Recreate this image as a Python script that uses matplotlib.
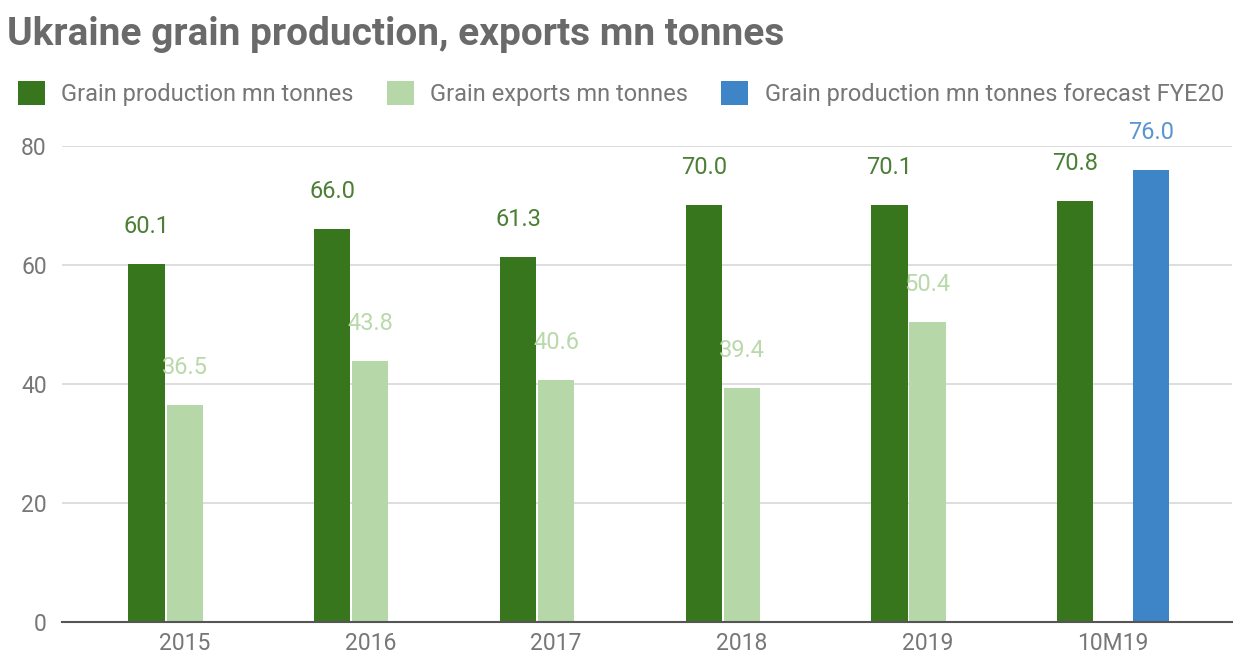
import numpy as np
import matplotlib.pyplot as plt
from matplotlib.patches import Patch

plt.rcParams['font.family'] = ['Roboto', 'DejaVu Sans']

# data
categories = ['2015', '2016', '2017', '2018', '2019', '10M19']
production = [60.1, 66.0, 61.3, 70.0, 70.1, 70.8]
exports = [36.5, 43.8, 40.6, 39.4, 50.4, None]
forecast = [None, None, None, None, None, 76.0]
series_names = ['Grain production mn tonnes', 'Grain exports mn tonnes',
                'Grain production mn tonnes forecast FYE20']

c_prod = '#38761d'
c_exp = '#b6d7a8'
c_fc = '#3d85c6'
lbl_colors = ['#4a7f35', '#b9d9ab', '#5b95cf']

fig = plt.figure(figsize=(12.42, 6.59), dpi=100)
ax = fig.add_axes([0.05, 0.0561, 0.942, 0.7224])

x = np.arange(len(categories))
w = 0.195
offs = [-0.205, 0.0, 0.205]
series = [production, exports, forecast]
colors = [c_prod, c_exp, c_fc]

for vals, off, col, lc in zip(series, offs, colors, lbl_colors):
    xs = [xi + off for xi, v in zip(x, vals) if v is not None]
    vs = [v for v in vals if v is not None]
    ax.bar(xs, vs, width=w, color=col, zorder=3)
    for xi, v in zip(xs, vs):
        ax.annotate(f'{v:.1f}', (xi, v), xytext=(0, 27), textcoords='offset points',
                    ha='center', va='center', fontsize=17, color=lc, annotation_clip=False)

ax.set_xlim(-0.66, 5.64)
ax.set_ylim(0, 80)
ax.set_yticks([0, 20, 40, 60, 80])
ax.set_xticks(x)
ax.set_xticklabels(categories)
ax.grid(axis='y', color='#d8d8d8', linewidth=1.2, zorder=0)
for s in ['top', 'right', 'left']:
    ax.spines[s].set_visible(False)
ax.spines['bottom'].set_color('#555555')
ax.spines['bottom'].set_linewidth(1.5)
ax.spines['bottom'].set_zorder(4)
ax.tick_params(axis='both', length=0, labelsize=16.5, labelcolor='#777777')
ax.tick_params(axis='y', pad=11)
ax.tick_params(axis='x', pad=7)

fig.text(0.006, 0.948, 'Ukraine grain production, exports mn tonnes', fontsize=28,
         fontweight='bold', color='#6a6a6a', va='center', ha='left')

handles = [Patch(facecolor=c, edgecolor='none') for c in colors]
fig.legend(handles, series_names, loc='center left', bbox_to_anchor=(-0.003, 0.858),
           ncol=3, frameon=False, fontsize=17, handlelength=1.15, handleheight=1.15,
           columnspacing=1.4, handletextpad=0.7, labelcolor='#777777')

plt.savefig('out.png', dpi=100)
